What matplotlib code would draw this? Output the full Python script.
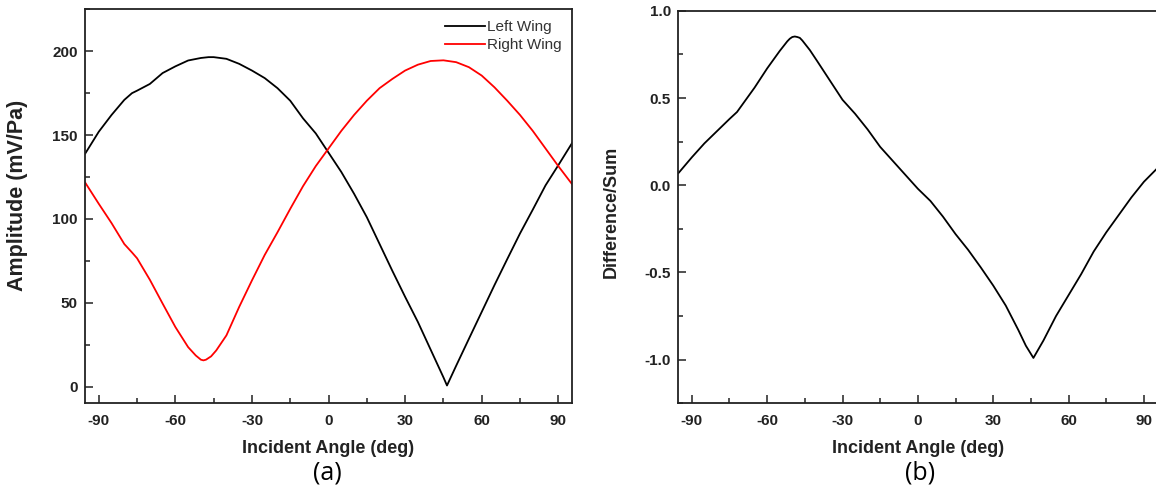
import numpy as np
import matplotlib.pyplot as plt
from matplotlib.ticker import MultipleLocator

# incident angle (deg)
angle = [-95.3, -90, -85, -80, -77, -75, -70, -65, -60, -55, -50, -47, -45, -40, -35,
         -30, -25, -20, -15, -10, -5, 0, 5, 10, 15, 20, 25, 30, 35, 40,
         45, 46.4, 50, 55, 60, 65, 70, 75, 80, 85, 90, 95.5]

left_wing = [139, 152, 162, 171, 175, 176.5, 180.5, 187, 191, 194.5, 196, 196.5, 196.5, 195.5, 192.5,
             188.5, 184, 178, 170.5, 160, 151, 139.5, 128, 115, 101, 85, 69, 53.5, 38.5, 22,
             5.5, 0.6, 12.4, 28.5, 44.5, 60.5, 76, 91.3, 105.5, 120, 132, 145.5]

angle_r = [-95.3, -90, -85, -80, -77, -75, -70, -65, -60, -55, -52, -50, -49, -48, -46, -44, -40, -35,
           -30, -25, -20, -15, -10, -5, 0, 5, 10, 15, 20, 25, 30, 35, 40,
           45, 50, 55, 60, 65, 70, 75, 80, 85, 90, 95.5]
right_wing = [121.6, 109, 97.5, 85, 80, 76.5, 63.7, 49.5, 35.5, 23.5, 18.5, 16, 15.6, 16, 18, 21.5, 30.5, 47.5,
              63.3, 78.5, 92, 106, 119.5, 131.5, 142, 152.5, 162, 170.5, 178, 183.5, 188.5, 192, 194.2,
              194.6, 193.5, 190.5, 185.5, 178.5, 170.5, 162, 152.5, 142, 131.5, 120.5]

angle_b = [-95.3, -90, -85, -80, -75, -72, -70, -65, -60, -55, -52, -51, -50, -49, -48, -47, -46, -43, -40, -35,
           -30, -25, -20, -15, -10, -5, 0, 5, 10, 15, 20, 25, 30, 35, 40, 43,
           46, 50, 55, 60, 65, 70, 75, 80, 85, 90, 95.5]
diff_sum = [0.07, 0.16, 0.24, 0.31, 0.38, 0.42, 0.46, 0.56, 0.67, 0.77, 0.825, 0.84, 0.85, 0.853, 0.85, 0.845, 0.83, 0.775, 0.71, 0.60,
            0.49, 0.41, 0.32, 0.22, 0.14, 0.06, -0.02, -0.09, -0.18, -0.28, -0.37, -0.47, -0.575, -0.69, -0.83, -0.92,
            -0.99, -0.89, -0.75, -0.63, -0.51, -0.38, -0.27, -0.17, -0.07, 0.02, 0.10]

plt.rcParams['font.family'] = ['Liberation Sans', 'DejaVu Sans']
plt.rcParams['axes.unicode_minus'] = False

fig = plt.figure(figsize=(11.56, 4.93), dpi=100)
ax1 = fig.add_axes([0.0733, 0.182, 0.4218, 0.799])
ax2 = fig.add_axes([0.5865, 0.182, 0.415, 0.796])


def style(ax):
    ax.xaxis.set_major_locator(MultipleLocator(30))
    ax.xaxis.set_minor_locator(MultipleLocator(15))
    ax.tick_params(which='both', direction='in', labelsize=11, width=1.1, colors='#222222')
    ax.tick_params(axis='x', pad=7.5)
    ax.tick_params(axis='y', pad=5)
    ax.tick_params(which='major', length=6)
    ax.tick_params(which='minor', length=3.5)
    for lab in ax.get_xticklabels() + ax.get_yticklabels():
        lab.set_fontweight('bold')
    for s in ax.spines.values():
        s.set_linewidth(1.3)
        s.set_color('#222222')
    ax.set_xlim(-95.5, 95.5)
    ax.set_xlabel('Incident Angle (deg)', fontsize=13, fontweight='bold', labelpad=9,
                  color='#222222')


ax1.plot(angle, left_wing, color='black', lw=1.3, label='Left Wing')
ax1.plot(angle_r, right_wing, color='red', lw=1.3, label='Right Wing')
ax1.set_ylim(-10, 225)
ax1.yaxis.set_major_locator(MultipleLocator(50))
ax1.yaxis.set_minor_locator(MultipleLocator(25))
style(ax1)
ax1.set_ylabel('Amplitude (mV/Pa)', fontsize=15.5, fontweight='bold', color='#222222')
ax1.yaxis.set_label_coords(-0.116, 0.528)
leg = ax1.legend(loc='upper right', frameon=False, fontsize=11, handlelength=2.6,
                 handletextpad=0.15, labelspacing=0.25, borderaxespad=0.3)
for t in leg.get_texts():
    t.set_color('#333333')

ax2.plot(angle_b, diff_sum, color='black', lw=1.3)
ax2.set_ylim(-1.25, 1.0)
ax2.yaxis.set_major_locator(MultipleLocator(0.5))
ax2.yaxis.set_minor_locator(MultipleLocator(0.25))
ax2.yaxis.set_major_formatter('{x:.1f}')
style(ax2)
ax2.set_ylabel('Difference/Sum', fontsize=13, fontweight='bold', color='#222222')
ax2.yaxis.set_label_coords(-0.121, 0.489)

fig.text(0.2835, 0.04, '(a)', fontsize=18, family='Open Sans', ha='center', va='center')
fig.text(0.7955, 0.04, '(b)', fontsize=18, family='Open Sans', ha='center', va='center')

fig.savefig('out.png', dpi=100)
